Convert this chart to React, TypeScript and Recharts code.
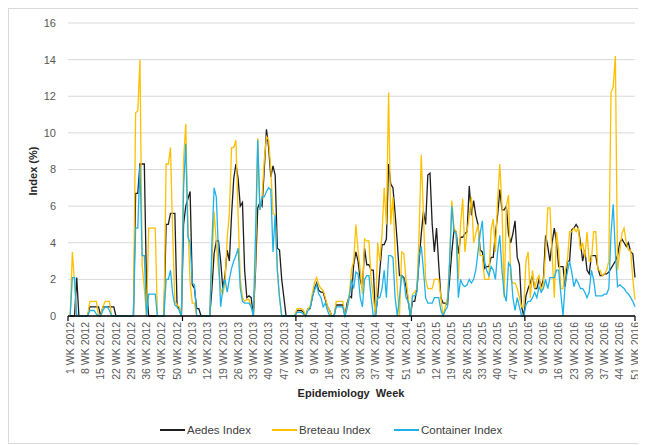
import React from 'react';
import { LineChart, Line, XAxis, YAxis, CartesianGrid } from 'recharts';

// epidemiology weeks shown per year
const years = [2012, 2013, 2014, 2015, 2016];
const weeksPerYear = [52, 52, 53, 52, 51];

// values, one per week
const aedesIndex = [
  // 2012
  0, 0, 0, 2.1, 0, 0, 0, 0, 0, 0.5,
  0.5, 0.5, 0.5, 0.5, 0, 0.5, 0.5, 0.5, 0.5, 0.5,
  0.5, 0, 0, 0, 0, 0, 0, 0, 0, 0,
  6.7, 6.7, 8.3, 8.3, 8.3, 1.6, 0, 0, 0, 0,
  0, 0, 0, 0, 5.0, 5.0, 5.6, 5.6, 5.6, 0.6, 0.4, 0,
  // 2013
  5.0, 6.0, 6.4, 6.8, 1.7, 1.5, 0.4, 0.4, 0, 0,
  0, 0, 0, 1.5, 3.4, 4.1, 4.1, 3.0, 1.5, 2.2,
  3.6, 3.0, 5.5, 7.5, 8.3, 7.5, 6.0, 6.2, 2.5, 1.0,
  1.1, 1.0, 0, 2.5, 5.9, 6.2, 6.0, 8.0, 10.2, 9.2,
  7.6, 8.2, 7.7, 3.7, 3.6, 2.0, 1.0, 0, 0, 0, 0, 0,
  // 2014
  0.3, 0.3, 0.3, 0.2, 0, 0.4, 0.4, 1.0, 1.5, 1.8,
  1.4, 1.3, 1.3, 0.9, 0.5, 0.3, 0, 0, 0.6, 0.6,
  0.6, 0.6, 0, 0.7, 1.1, 1.0, 2.8, 3.5, 3.0, 2.0,
  1.5, 3.7, 2.8, 2.8, 2.5, 2.5, 0, 1.0, 2.5, 3.9,
  3.9, 4.2, 8.3, 7.2, 7.0, 5.6, 4.0, 2.2, 2.2, 2.1,
  1.6, 0.8, 0,
  // 2015
  0.8, 0.8, 1.5, 3.0, 4.5, 5.7, 5.0, 7.7, 7.8, 5.0,
  3.5, 4.8, 2.8, 1.0, 0.7, 0.7, 0.6, 2.0, 3.5, 4.7,
  4.6, 3.4, 4.3, 4.3, 4.5, 4.6, 7.1, 5.5, 6.3, 5.5,
  5.0, 3.6, 3.5, 2.6, 2.7, 2.7, 3.2, 3.2, 4.5, 5.5,
  6.9, 5.8, 5.8, 6.0, 4.5, 4.0, 4.5, 5.2, 3.2, 2.8,
  0.5, 0,
  // 2016
  1.1, 1.5, 1.8, 2.2, 1.5, 1.5, 2.0, 1.6, 2.0, 4.4,
  3.8, 3.0, 4.0, 4.8, 4.0, 2.7, 2.7, 2.7, 1.6, 3.0,
  3.0, 4.7, 4.8, 5.0, 4.8, 4.0, 3.0, 3.6, 2.5, 2.3,
  3.3, 3.3, 3.3, 2.6, 2.2, 2.2, 2.3, 2.3, 2.4, 2.6,
  2.8, 3.0, 3.3, 4.0, 4.2, 4.0, 3.8, 4.0, 3.5, 3.4, 2.1,
];

const breteauIndex = [
  // 2012
  0, 3.5, 1.8, 0, 0, 0, 0, 0, 0, 0.8,
  0.8, 0.8, 0.8, 0, 0, 0.5, 0.8, 0.8, 0.8, 0,
  0, 0, 0, 0, 0, 0, 0, 0, 0, 0,
  11.1, 11.2, 14.0, 2.8, 1.5, 0, 4.8, 4.8, 4.8, 4.8,
  0, 0, 0, 0, 8.3, 8.3, 9.2, 4.5, 0.8, 0.6, 0.5, 0,
  // 2013
  8.5, 10.5, 5.0, 1.8, 0.7, 0.7, 0, 0, 0, 0,
  0, 0, 0, 3.0, 5.7, 4.0, 2.5, 1.5, 1.2, 1.8,
  4.3, 5.6, 9.2, 9.2, 9.6, 5.5, 2.0, 1.0, 0.8, 0.9,
  0.9, 0.5, 0, 3.0, 9.7, 5.8, 6.5, 8.5, 9.8, 9.6,
  8.0, 5.6, 5.5, 2.5, 1.0, 0, 0, 0, 0, 0, 0, 0,
  // 2014
  0.4, 0.4, 0.4, 0.3, 0, 0.4, 0.5, 1.2, 1.8, 2.1,
  1.7, 1.5, 1.4, 1.0, 0.5, 0.3, 0, 0, 0.8, 0.8,
  0.8, 0.8, 0, 0.5, 1.2, 2.5, 3.0, 5.0, 3.6, 2.5,
  1.2, 4.2, 4.1, 4.1, 2.0, 1.0, 0, 4.0, 3.0, 4.5,
  7.0, 5.0, 12.2, 5.0, 6.5, 3.5, 1.5, 0, 3.5, 3.4,
  2.0, 1.0, 0,
  // 2015
  1.2, 1.3, 1.5, 4.5, 8.8, 5.5, 2.0, 1.5, 1.5, 1.5,
  2.0, 2.0, 2.0, 1.0, 0, 0.5, 1.0, 3.0, 6.3, 4.8,
  4.6, 2.0, 5.0, 6.4, 3.5, 4.6, 5.5, 6.5, 4.0, 4.5,
  5.0, 3.3, 3.3, 2.0, 2.0, 2.0, 4.7, 5.3, 3.5, 6.3,
  8.3, 6.0, 1.0, 6.0, 6.6, 2.0, 1.8, 1.8, 1.5, 1.0,
  0.5, 0.5,
  // 2016
  3.0, 3.5, 1.0, 2.5, 1.5, 2.0, 2.2, 1.4, 1.8, 3.5,
  5.9, 5.9, 3.4, 1.0, 4.6, 3.6, 1.5, 1.5, 2.5, 3.0,
  4.6, 4.6, 4.8, 4.6, 4.8, 3.6, 4.0, 3.2, 4.6, 3.0,
  3.0, 4.6, 4.6, 2.5, 2.5, 2.2, 2.3, 2.5, 3.0, 12.2,
  12.5, 14.2, 2.5, 3.5, 4.5, 4.8, 4.0, 3.6, 3.6, 2.0, 0.9,
];

const containerIndex = [
  // 2012
  0, 2.1, 2.1, 0, 0, 0, 0, 0, 0, 0.3,
  0.3, 0.3, 0.1, 0, 0, 0.3, 0.5, 0.5, 0.3, 0,
  0, 0, 0, 0, 0, 0, 0, 0, 0, 0,
  4.8, 4.8, 8.2, 3.3, 3.3, 0, 1.2, 1.2, 1.2, 1.2,
  0, 0, 0, 0, 2.0, 2.0, 2.5, 1.2, 0.6, 0.5, 0.3, 0,
  // 2013
  7.0, 9.4, 4.3, 4.0, 1.8, 1.7, 0, 0, 0, 0,
  0, 0, 0, 4.0, 7.0, 6.5, 3.5, 0.5, 1.5, 2.0,
  1.3, 2.0, 2.6, 3.0, 3.3, 3.7, 1.5, 0.8, 0.7, 0.7,
  0.7, 0.5, 0, 4.5, 9.6, 5.8, 6.5, 6.5, 6.8, 7.0,
  6.9, 3.5, 5.5, 2.5, 1.0, 0, 0, 0, 0, 0, 0, 0,
  // 2014
  0.2, 0.2, 0.2, 0.1, 0, 0.3, 0.4, 1.0, 1.4, 1.7,
  1.2, 1.0, 0.5, 0.7, 0.3, 0, 0, 0, 0.5, 0.5,
  0.5, 0.5, 0, 0.4, 1.0, 2.0, 1.5, 2.4, 2.3, 1.0,
  0.5, 2.0, 2.2, 2.2, 1.0, 0, 0, 1.0, 1.0, 1.5,
  2.5, 1.0, 3.3, 3.3, 3.2, 1.0, 0, 1.0, 2.2, 2.0,
  1.0, 0.8, 0,
  // 2015
  1.1, 1.1, 1.3, 3.3, 3.8, 2.5, 1.0, 0.7, 0.7, 0.7,
  1.0, 1.0, 1.0, 0.3, 0, 0.3, 0.5, 3.0, 6.0, 4.6,
  4.5, 1.0, 2.0, 1.7, 1.6, 1.7, 2.0, 1.8, 2.0, 2.5,
  3.5, 4.5, 5.2, 3.0, 2.5, 2.2, 2.7, 2.5, 2.0, 3.5,
  4.4, 2.5, 1.2, 0.8, 2.9, 2.7, 1.0, 0.3, 1.0, 0.5,
  0, 0,
  // 2016
  0.6, 0.8, 0.8, 1.0, 1.3, 1.0, 1.6, 1.3, 1.5, 2.0,
  1.5, 2.1, 2.1, 2.1, 2.5, 2.5, 1.2, 0, 1.8, 2.4,
  3.0, 2.4, 1.6, 2.0, 1.8, 1.5, 1.5, 1.3, 1.0, 1.3,
  2.5, 2.0, 1.1, 1.1, 1.1, 1.1, 1.2, 1.2, 1.5, 4.5,
  6.1, 3.5, 1.6, 1.7, 1.6, 1.5, 1.3, 1.2, 1.0, 0.8, 0.5,
];

const yTicks = [0, 2, 4, 6, 8, 10, 12, 14, 16];

// "1 WK 2012" ... "51 WK 2016"
const weekLabels: string[] = [];
years.forEach((yr, k) => {
  for (let w = 1; w <= weeksPerYear[k]; w++) weekLabels.push(`${w} WK ${yr}`);
});

// every 7th week gets a label, small tick marks sit at the ends and between years
const labelTicks = weekLabels.map((_, i) => i).filter((i) => i % 7 === 0);
const yearBreaks = [-1, 51.5, 103.5, 156.5, 208.5, 259];
const xTicks = Array.from(new Set([...labelTicks, ...yearBreaks])).sort((a, b) => a - b);

const data = weekLabels.map((week, i) => ({
  idx: i,
  week,
  aedes: aedesIndex[i],
  breteau: breteauIndex[i],
  container: containerIndex[i],
}));

const series = [
  { key: 'aedes', name: 'Aedes Index', color: '#1e1e1e' },
  { key: 'breteau', name: 'Breteau Index', color: '#FFC000' },
  { key: 'container', name: 'Container Index', color: '#1FB2EA' },
];

const WeekTick = ({ x, y, payload }: any) => {
  const v = payload.value;
  const showLabel = labelTicks.includes(v);
  return (
    <g>
      {yearBreaks.includes(v) && (
        <line x1={x} x2={x} y1={y - 6} y2={y - 1} stroke="#000" strokeWidth={1.2} />
      )}
      {showLabel && (
        <text
          x={x}
          y={y}
          transform={`rotate(-90, ${x}, ${y})`}
          textAnchor="end"
          dy="0.35em"
          fill="#595959"
          fontSize={10.5}
        >
          {weekLabels[v]}
        </text>
      )}
    </g>
  );
};

// legend placement (px, inside the frame)
const legendItems = [
  { ...series[0], left: 151 },
  { ...series[1], left: 263 },
  { ...series[2], left: 385 },
];

export default function App() {
  return (
    <div
      style={{
        position: 'relative',
        width: 631,
        height: 434,
        border: '1px solid #d9d9d9',
        fontFamily: '"Liberation Sans", Arial, sans-serif',
        background: '#fff',
      }}
    >
      <LineChart
        width={631}
        height={434}
        data={data}
        margin={{ top: 14, right: 5, bottom: 47, left: 19 }}
      >
        <CartesianGrid vertical={false} stroke="#d9d9d9" />
        <XAxis
          type="number"
          dataKey="idx"
          domain={[-1, 259]}
          ticks={xTicks}
          interval={0}
          tick={<WeekTick />}
          tickLine={false}
          tickSize={0}
          tickMargin={6}
          axisLine={{ stroke: '#000', strokeWidth: 1.3 }}
          height={80}
        />
        <YAxis
          type="number"
          domain={[0, 16]}
          ticks={yTicks}
          width={40}
          axisLine={false}
          tickLine={false}
          tickSize={0}
          tickMargin={12}
          tick={{ fill: '#595959', fontSize: 11 }}
        />
        {series.map((s) => (
          <Line
            key={s.key}
            type="linear"
            dataKey={s.key}
            name={s.name}
            stroke={s.color}
            strokeWidth={1.3}
            dot={false}
            isAnimationActive={false}
          />
        ))}
      </LineChart>

      {/* axis titles */}
      <div
        style={{
          position: 'absolute',
          left: 24,
          top: 162,
          transform: 'translate(-50%, -50%) rotate(-90deg)',
          fontSize: 11,
          fontWeight: 'bold',
          color: '#262626',
          whiteSpace: 'nowrap',
        }}
      >
        Index (%)
      </div>
      <div
        style={{
          position: 'absolute',
          left: 342,
          top: 384,
          transform: 'translate(-50%, -50%)',
          fontSize: 11,
          fontWeight: 'bold',
          color: '#262626',
          whiteSpace: 'pre',
        }}
      >
        {'Epidemiology  Week'}
      </div>

      {/* legend */}
      {legendItems.map((it) => (
        <div
          key={it.key}
          style={{
            position: 'absolute',
            left: it.left,
            top: 421,
            transform: 'translateY(-50%)',
            display: 'flex',
            alignItems: 'center',
            fontSize: 11.5,
            color: '#404040',
            whiteSpace: 'nowrap',
          }}
        >
          <span style={{ display: 'inline-block', width: 25, height: 2, background: it.color, marginRight: 2 }} />
          {it.name}
        </div>
      ))}
    </div>
  );
}
